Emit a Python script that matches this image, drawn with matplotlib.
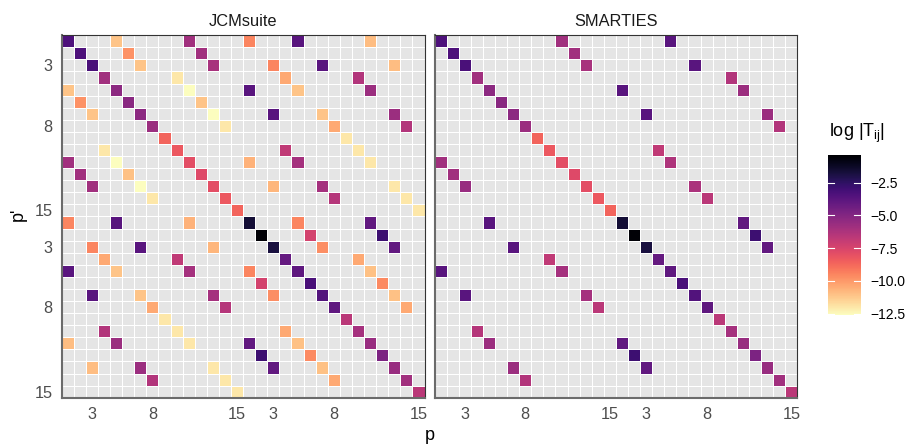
import numpy as np
import matplotlib
matplotlib.use("Agg")
import matplotlib.pyplot as plt
from matplotlib.colors import Normalize
from matplotlib.transforms import blended_transform_factory

plt.rcParams['font.family'] = ['Liberation Sans', 'DejaVu Sans']
plt.rcParams['mathtext.fontset'] = 'custom'
plt.rcParams['mathtext.rm'] = 'Liberation Sans'

# ---------------- data ----------------
n_p = 30
p_ticks = [3, 8, 15, 18, 23, 30]
p_tick_labels = ['3', '8', '15', '3', '8', '15']
panel_titles = ['JCMsuite', 'SMARTIES']

# diagonal log|T_ii| (same in both solvers)
diag_logT = [-3.4, -3.4, -3.3, -5.9, -5.3, -5.2, -5.3, -5.7, -8.6, -8.3,
             -7.9, -7.7, -7.9, -8.3, -8.6, -1.6, -0.5, -1.8, -4.1, -3.9,
             -3.3, -3.5, -3.9, -6.6, -6.0, -5.6, -4.8, -5.6, -5.9, -6.6]

# JCMsuite off-diagonal entries: p' (row), p (column), log|T|
jcm_pprime = [1, 1, 2, 2, 3, 3, 4, 5, 5, 6, 6, 7, 7, 8, 10, 11, 11, 12, 12, 13, 13, 14,
              1, 1, 1, 3, 3, 3, 4, 4, 5, 5, 5, 7, 7, 7, 8, 8, 9, 10, 10, 11, 11, 11, 13, 13, 13, 14, 14, 15,
              16, 20, 26, 18, 22, 28, 19, 25, 16, 20, 26, 18, 22, 28, 23, 29, 24, 19, 25, 16, 20, 26, 18, 22, 28, 23, 29, 30,
              16, 16, 17, 17, 18, 18, 19, 20, 20, 21, 21, 22, 22, 23, 25, 26, 26, 27, 27, 28, 28, 29]
jcm_p = [5, 11, 6, 12, 7, 13, 10, 1, 11, 2, 12, 3, 13, 14, 4, 1, 5, 2, 6, 3, 7, 8,
         16, 20, 26, 18, 22, 28, 19, 25, 16, 20, 26, 18, 22, 28, 23, 29, 24, 19, 25, 16, 20, 26, 18, 22, 28, 23, 29, 30,
         1, 1, 1, 3, 3, 3, 4, 4, 5, 5, 5, 7, 7, 7, 8, 8, 9, 10, 10, 11, 11, 11, 13, 13, 13, 14, 14, 15,
         20, 26, 21, 27, 22, 28, 25, 16, 26, 17, 27, 18, 28, 29, 19, 16, 20, 17, 21, 18, 22, 23]
jcm_logT = [-11.1, -5.9, -9.8, -5.9, -11.1, -6.1, -12.0, -11.1, -12.6, -9.8, -11.1, -11.1, -12.6, -12.0,
            -12.0, -5.9, -12.6, -5.9, -11.0, -5.9, -12.6, -12.0,
            -9.5, -3.7, -10.9, -9.5, -3.7, -10.9, -10.4, -6.4, -3.7, -11.1, -5.7, -3.7, -11.1, -5.7,
            -10.4, -6.4, -12.0, -6.8, -12.0, -10.6, -6.0, -12.0, -10.7, -6.0, -12.0, -6.5, -12.0, -12.0,
            -9.5, -3.7, -10.9, -9.5, -3.7, -10.9, -10.4, -6.4, -3.7, -11.1, -5.7, -3.7, -11.1, -5.7,
            -10.4, -6.4, -12.0, -6.8, -12.0, -10.6, -6.0, -12.0, -10.7, -6.0, -12.0, -6.5, -12.0, -12.0,
            -9.5, -4.0, -7.4, -2.9, -9.7, -4.0, -10.4, -9.5, -11.0, -7.4, -9.6, -9.7, -11.0, -10.4,
            -10.4, -4.0, -11.0, -2.9, -9.6, -4.0, -11.0, -10.4]

# SMARTIES off-diagonal entries
sm_pprime = [1, 2, 3, 11, 12, 13,
             1, 3, 4, 5, 5, 7, 7, 8, 10, 11, 13, 14,
             20, 22, 25, 16, 26, 18, 28, 29, 19, 20, 22, 23,
             16, 17, 18, 26, 27, 28]
sm_p = [11, 12, 13, 1, 2, 3,
        20, 22, 25, 16, 26, 18, 28, 29, 19, 20, 22, 23,
        1, 3, 4, 5, 5, 7, 7, 8, 10, 11, 13, 14,
        26, 27, 28, 16, 17, 18]
sm_logT = [-5.9, -5.9, -6.1, -5.9, -5.9, -5.6,
           -3.7, -3.7, -6.4, -3.7, -5.7, -3.7, -5.7, -6.4, -6.8, -6.3, -6.2, -6.6,
           -3.7, -3.7, -6.5, -3.7, -5.7, -3.7, -5.7, -6.4, -6.8, -6.0, -6.0, -6.6,
           -4.0, -2.9, -4.0, -4.0, -2.9, -4.0]

cbar_ticks = [-2.5, -5.0, -7.5, -10.0, -12.5]
cbar_tick_labels = ['\u22122.5', '\u22125.0', '\u22127.5', '\u221210.0', '\u221212.5']
v_min, v_max = -12.6, -0.4

# ---------------- figure ----------------
W, H = 913, 445
fig = plt.figure(figsize=(W / 100, H / 100), dpi=100)

cmap = plt.get_cmap('magma_r').copy()
cmap.set_bad('#E5E5E5')
norm = Normalize(vmin=v_min, vmax=v_max)

panel_left = [61.7, 434.5]
panel_w = 362.8
panel_top, panel_bot = 35.2, 397.7

def build(rows, cols, vals):
    Z = np.full((n_p, n_p), np.nan)
    for i, v in enumerate(diag_logT):
        Z[i, i] = v
    for r, c, v in zip(rows, cols, vals):
        Z[r - 1, c - 1] = v
    return np.ma.masked_invalid(Z)

datasets = [(jcm_pprime, jcm_p, jcm_logT), (sm_pprime, sm_p, sm_logT)]
edges = np.arange(0.5, n_p + 1, 1.0)
mesh = None
for k in range(2):
    ax = fig.add_axes([panel_left[k] / W, 1 - panel_bot / H, panel_w / W,
                       (panel_bot - panel_top) / H])
    Z = build(*datasets[k])
    mesh = ax.pcolormesh(edges, edges, Z, cmap=cmap, norm=norm,
                         edgecolors='white', linewidth=0.45)
    ax.set_xlim(0.5, n_p + 0.5)
    ax.set_ylim(n_p + 0.5, 0.5)
    ax.set_xticks(p_ticks)
    ax.set_xticklabels(p_tick_labels)
    ax.set_yticks(p_ticks)
    if k == 0:
        ax.set_yticklabels(p_tick_labels)
    else:
        ax.set_yticklabels([])
    ax.tick_params(length=0, labelsize=11.7, colors='#4D4D4D', pad=6.5)
    for s in ['top', 'right']:
        ax.spines[s].set_color('#333333')
        ax.spines[s].set_linewidth(0.8)
    for s in ['left', 'bottom']:
        ax.spines[s].set_color('#6b6b6b')
        ax.spines[s].set_linewidth(1.5)
    ax.set_title(panel_titles[k], fontsize=11.8, color='#1A1A1A', pad=6.5)

fig.text(430 / W, 1 - 436 / H, 'p', fontsize=13, ha='center', va='center')
fig.text(18 / W, 1 - 214 / H, "p'", fontsize=13, ha='center', va='center', rotation=90)

# colour bar
cax = fig.add_axes([827.7 / W, 1 - 315 / H, 33 / W, 160 / H])
cb = fig.colorbar(mesh, cax=cax, ticks=cbar_ticks)
cb.outline.set_visible(False)
cax.set_yticklabels(cbar_tick_labels)
cax.tick_params(length=0, labelsize=10, pad=7, colors='black')
tr = blended_transform_factory(cax.transAxes, cax.transData)
for v in cbar_ticks:
    cax.plot([0, 0.2], [v, v], transform=tr, color='white', lw=0.8)
    cax.plot([0.8, 1.0], [v, v], transform=tr, color='white', lw=0.8)
fig.text(829 / W, 1 - 137 / H, r'log |T$_{\mathregular{ij}}$|', fontsize=13,
         ha='left', va='baseline')

fig.savefig('out.png', dpi=100)
